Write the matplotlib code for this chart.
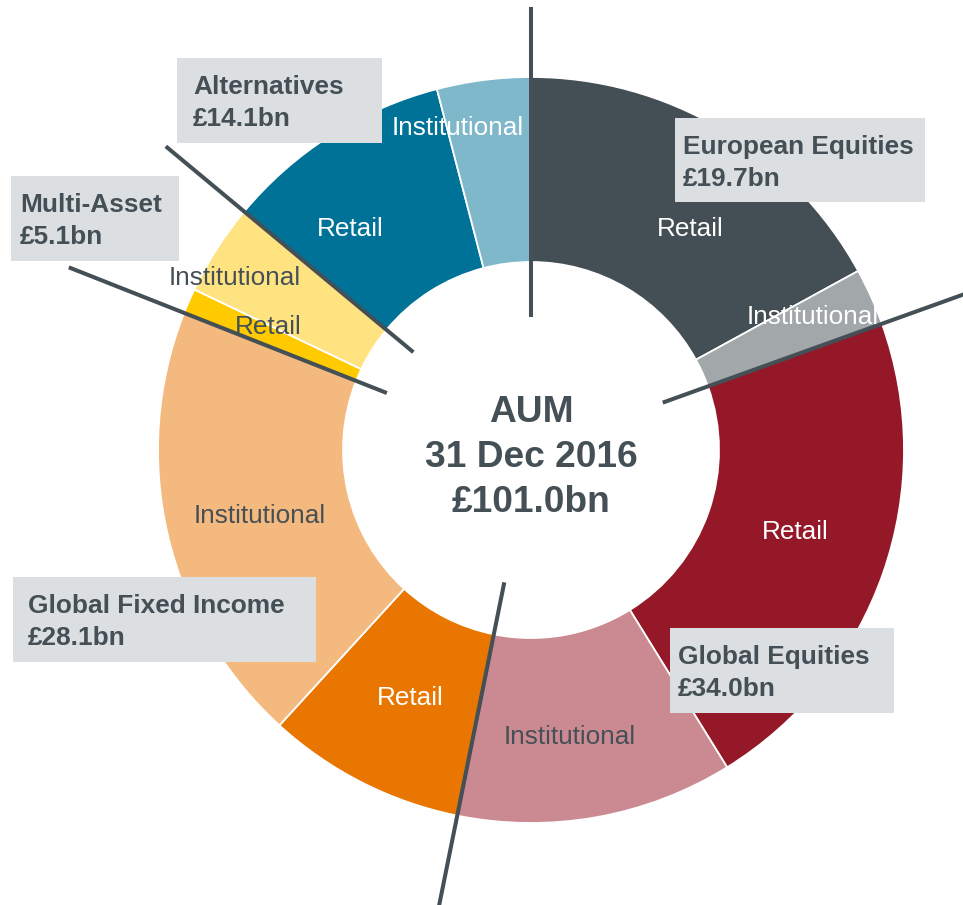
import matplotlib
matplotlib.use('Agg')
import matplotlib.pyplot as plt
from matplotlib.patches import Rectangle
import numpy as np

plt.rcParams['font.family'] = ['Liberation Sans', 'DejaVu Sans']

# AUM split by asset class, £bn
categories = ['European Equities', 'Global Equities', 'Global Fixed Income', 'Multi-Asset', 'Alternatives']
category_totals = [19.7, 34.0, 28.1, 5.1, 14.1]
retail = [17.2, 21.9, 8.7, 1.1, 10.0]
institutional = [2.5, 12.1, 19.4, 4.0, 4.1]
channel_names = ['Retail', 'Institutional']
as_at = '31 Dec 2016'

# colours per category: (retail, institutional)
colours = [('#434e55', '#a2a7aa'),
           ('#941828', '#cb8a91'),
           ('#e97600', '#f4b97f'),
           ('#ffcb00', '#ffe381'),
           ('#007298', '#80b8cb')]
text_dark = '#444f56'
box_grey = '#dcdfe2'

W, H = 963, 905
cx, cy = 531, H - 450
R_out, ring = 373, 185

fig = plt.figure(figsize=(W / 100, H / 100), dpi=100)
ax = fig.add_axes([0, 0, 1, 1])

values, wedge_colours = [], []
for i in range(len(categories)):
    values += [retail[i], institutional[i]]
    wedge_colours += list(colours[i])

ax.pie(values, colors=wedge_colours, startangle=90, counterclock=False,
       radius=R_out, center=(cx, cy),
       wedgeprops=dict(width=ring, edgecolor='white', linewidth=1.3))

# dividing lines between asset classes
total = sum(category_totals)
bounds = np.concatenate([[0], np.cumsum(category_totals)[:-1]]) / total * 2 * np.pi
line_r0 = [133, 140, 135, 155, 153]
line_r1 = [443, 480, 480, 497, 475]
for th, r0, r1 in zip(bounds, line_r0, line_r1):
    xs = [cx + r0 * np.sin(th), cx + r1 * np.sin(th)]
    ys = [cy + r0 * np.cos(th), cy + r1 * np.cos(th)]
    ax.plot(xs, ys, color=text_dark, lw=2.9, solid_capstyle='butt', zorder=3)

# segment labels (pixel positions from the top-left)
seg_pos = [[(690, 229), (813, 317)],
           [(795, 532), (570, 737)],
           [(410, 698), (260, 516)],
           [(268, 327), (235, 278)],
           [(350, 229), (458, 128)]]
seg_col = [['white', 'white'],
           ['white', text_dark],
           ['white', text_dark],
           [text_dark, text_dark],
           ['white', 'white']]
for i in range(len(categories)):
    for j in range(2):
        x, y = seg_pos[i][j]
        ax.text(x, H - y, channel_names[j], color=seg_col[i][j], fontsize=18.8,
                ha='center', va='center', zorder=5)

# category boxes: left, top, right, bottom in pixels, plus text left edge
boxes = [(675, 118, 925, 202),
         (670, 628, 894, 713),
         (13, 577, 316, 662),
         (11, 176, 179, 261),
         (177, 58, 382, 143)]
text_left = [683, 678, 28, 20, 193]
for i, (l, t, r, b) in enumerate(boxes):
    ax.add_patch(Rectangle((l, H - b), r - l, b - t, facecolor=box_grey,
                           edgecolor='none', zorder=4))
    ax.text(text_left[i], H - (t + 36), categories[i], color=text_dark, fontsize=18.9,
            fontweight='bold', ha='left', va='baseline', zorder=5)
    ax.text(text_left[i], H - (t + 68), f'£{category_totals[i]:.1f}bn', color=text_dark,
            fontsize=18.9, fontweight='bold', ha='left', va='baseline', zorder=5)

# centre text
centre_lines = ['AUM', as_at, f'£{total:.1f}bn']
for k, s in enumerate(centre_lines):
    ax.text(cx, H - (422 + 45 * k), s, color=text_dark, fontsize=26.7,
            fontweight='bold', ha='center', va='baseline', zorder=5)

ax.set_xlim(0, W)
ax.set_ylim(0, H)
ax.set_aspect('equal')
ax.axis('off')

plt.savefig('out.png', dpi=100)
